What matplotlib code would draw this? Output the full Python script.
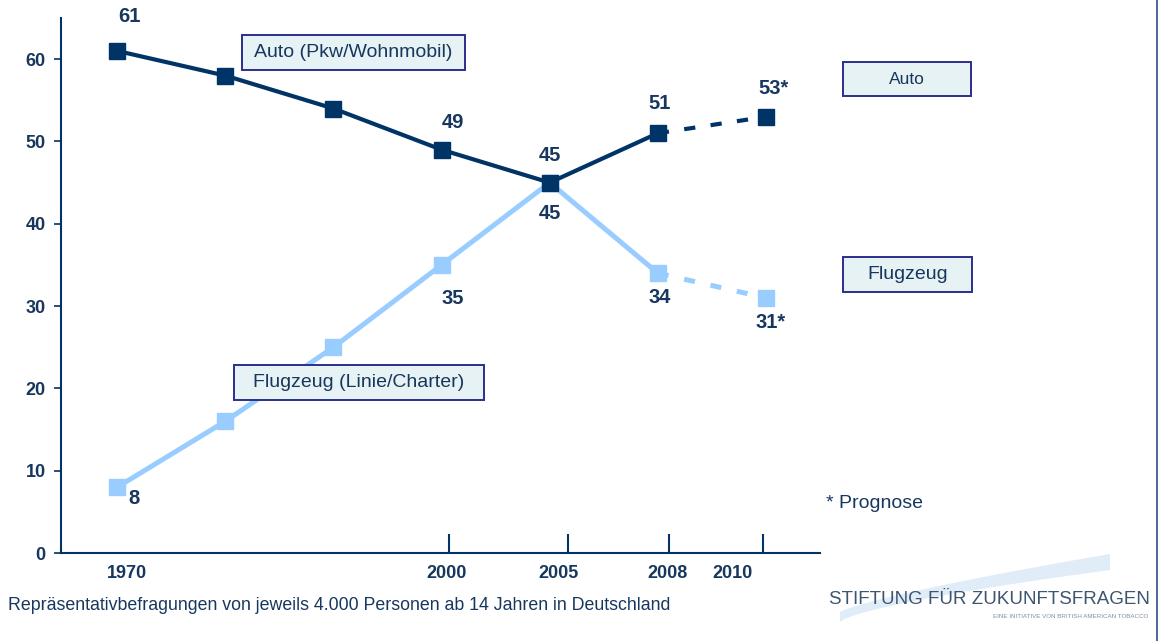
import matplotlib
matplotlib.use("Agg")
import matplotlib.pyplot as plt
from matplotlib.patches import Rectangle, Polygon
import numpy as np

plt.rcParams['font.family'] = ['Liberation Sans', 'DejaVu Sans']

# ---- data ----
years = ["1970", "", "", "2000", "2005", "2008", "2010"]
auto = [61, 58, 54, 49, 45, 51, 53]
flug = [8, 16, 25, 35, 45, 34, 31]
auto_labels = ["61", "", "", "49", "45", "51", "53*"]
flug_labels = ["8", "", "", "35", "45", "34", "31*"]
tick_years = ["1970", "2000", "2005", "2008", "2010"]
n_measured = 6  # last point is a forecast

NAVY = "#003366"
LIGHT = "#99CCFF"
TXT = "#17375E"
BOXFACE = "#E6F2F3"
BOXEDGE = "#2B2E8C"

fig = plt.figure(figsize=(11.6, 6.41), dpi=100)
L, R, T, B = 61, 820, 18, 553
W, H = 1160, 641
ax = fig.add_axes([L / W, 1 - B / H, (R - L) / W, (B - T) / H])

x = np.arange(len(auto))
# light (Flugzeug) line
ax.plot(x[:n_measured], flug[:n_measured], color=LIGHT, lw=3.6, zorder=2, solid_capstyle='butt')
ax.plot(x[n_measured - 1:], flug[n_measured - 1:], color=LIGHT, lw=3.6, ls=(0, (2.2, 3.2)), zorder=2)
ax.plot(x, flug, ls='none', marker='s', ms=12, color=LIGHT, zorder=3)
# dark (Auto) line
ax.plot(x[:n_measured], auto[:n_measured], color=NAVY, lw=3.0, zorder=4, solid_capstyle='butt')
ax.plot(x[n_measured - 1:], auto[n_measured - 1:], color=NAVY, lw=3.0, ls=(0, (2.7, 3.7)), zorder=4)
ax.plot(x, auto, ls='none', marker='s', ms=12, color=NAVY, zorder=5)

ax.set_xlim(-0.52, 6.5)
ax.set_ylim(0, 65)

# value labels
auto_off = {0: (12, 34), 3: (11, 27), 4: (0, 27), 5: (2, 30), 6: (8, 28)}
flug_off = {0: (17, -11), 3: (11, -34), 4: (0, -31), 5: (2, -24), 6: (5, -25)}
for i, lab in enumerate(auto_labels):
    if lab:
        dx, dy = auto_off[i]
        ax.annotate(lab, (x[i], auto[i]), xytext=(dx, dy), textcoords='offset pixels',
                    ha='center', va='center', fontsize=14.5, fontweight='bold', color=TXT, zorder=6)
for i, lab in enumerate(flug_labels):
    if lab:
        dx, dy = flug_off[i]
        ax.annotate(lab, (x[i], flug[i]), xytext=(dx, dy), textcoords='offset pixels',
                    ha='center', va='center', fontsize=14.5, fontweight='bold', color=TXT, zorder=6)

# spines
for s in ['top', 'right']:
    ax.spines[s].set_visible(False)
for s in ['left', 'bottom']:
    ax.spines[s].set_color(NAVY)
    ax.spines[s].set_linewidth(1.5)

ax.set_yticks([0, 10, 20, 30, 40, 50, 60])
ax.tick_params(axis='y', direction='out', length=5, width=1.2, color=NAVY, pad=6,
               labelsize=13, labelcolor=TXT)
for t in ax.get_yticklabels():
    t.set_fontweight('bold')

# x: tick marks (minor) and labels (major)
mark_pos = [0.09, 3.07, 4.17, 5.10, 5.97]
label_pos = [0.09, 3.05, 4.08, 5.09, 5.69]
ax.set_xticks(mark_pos, minor=True)
ax.set_xticks(label_pos)
ax.set_xticklabels(tick_years)
ax.tick_params(axis='x', which='minor', direction='in', length=14, width=1.5, color=NAVY)
ax.tick_params(axis='x', which='major', length=0, pad=9, labelsize=13, labelcolor=TXT)
for t in ax.get_xticklabels():
    t.set_fontweight('bold')


def fx(px):
    return px / W


def fy(py):
    return 1 - py / H


def box(x0, y0, x1, y1, text, fs=14):
    fig.add_artist(Rectangle((fx(x0), fy(y1)), fx(x1) - fx(x0), fy(y0) - fy(y1),
                             transform=fig.transFigure, facecolor=BOXFACE,
                             edgecolor=BOXEDGE, lw=1.4, zorder=7))
    fig.text(fx((x0 + x1) / 2), fy((y0 + y1) / 2), text, ha='center', va='center',
             fontsize=fs, color=TXT, zorder=8)


box(242, 35, 465, 70, "Auto (Pkw/Wohnmobil)")
box(234, 365, 484, 400, "Flugzeug (Linie/Charter)")
box(843, 62, 971, 96, "Auto", fs=12.5)
box(843, 257, 972, 292, "Flugzeug", fs=14)

fig.text(fx(826), fy(503), "* Prognose", ha='left', va='center', fontsize=14, color=TXT)
fig.text(fx(8), fy(606), "Repräsentativbefragungen von jeweils 4.000 Personen ab 14 Jahren in Deutschland",
         ha='left', va='center', fontsize=12.8, color=TXT)

# logo swoosh
t = np.linspace(0, 1, 60)
xo = 840 + 270 * t
yo_top = 612 - 58 * t ** 0.8
yo_bot = 622 - 52 * t ** 0.7
pts = np.concatenate([np.column_stack([xo, yo_top]), np.column_stack([xo[::-1], yo_bot[::-1]])])
fig.add_artist(Polygon(np.column_stack([fx(pts[:, 0]), fy(pts[:, 1])]), closed=True,
                       transform=fig.transFigure, facecolor="#E0ECF7", edgecolor='none', zorder=1))
fig.text(fx(1150), fy(599), "STIFTUNG FÜR ZUKUNFTSFRAGEN", ha='right', va='center',
         fontsize=13.5, color="#3E5570", zorder=3)
fig.text(fx(1148), fy(617), "EINE INITIATIVE VON BRITISH AMERICAN TOBACCO", ha='right', va='center',
         fontsize=4.5, color="#8090A0", zorder=3)

# right frame line
fig.add_artist(plt.Line2D([fx(1157), fx(1157)], [0, 1], transform=fig.transFigure,
                          color="#2E4E80", lw=1.2))

fig.savefig("out.png", dpi=100, facecolor='white')
